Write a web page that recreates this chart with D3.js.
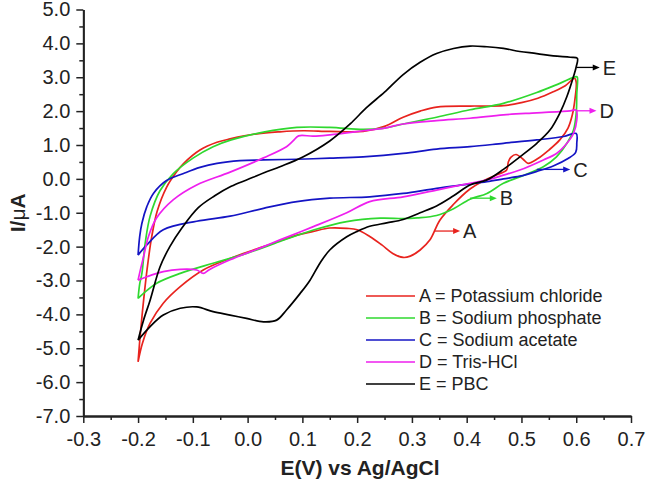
<!DOCTYPE html>
<html>
<head>
<meta charset="utf-8">
<script src="https://cdn.jsdelivr.net/npm/d3@7"></script>
<style>
	body { margin: 0; background: #fff; }
	.canvas { width: 646px; height: 483px; }
	text { font-family: Arial, "Liberation Sans", sans-serif; fill: #222; }
</style>
</head>
<body>
<div class="canvas"></div>
<script>
// series, in the order of the legend
const seriesKeys = ['A', 'B', 'C', 'D', 'E'];
const seriesNames = ['Potassium chloride', 'Sodium phosphate', 'Sodium acetate', 'Tris-HCl', 'PBC'];
const seriesColors = ['#e8231e', '#2fd82f', '#1414c4', '#ee1fee', '#000000'];

// each loop: [E (V), I (uA)] in scan order, forward then reverse
const loopA = [[-0.2,-5.4],[-0.196,-4.6],[-0.19,-3.6],[-0.183,-2.6],[-0.175,-1.7],[-0.165,-0.95],[-0.148,-0.25],[-0.13,0.2],[-0.117,0.45],[-0.087,0.85],[-0.056,1.08],[-0.032,1.18],[0.017,1.33],[0.059,1.39],[0.102,1.42],[0.15,1.4],[0.211,1.4],[0.25,1.55],[0.284,1.82],[0.315,2.0],[0.345,2.12],[0.406,2.15],[0.467,2.16],[0.5,2.25],[0.53,2.38],[0.558,2.57],[0.58,2.75],[0.597,2.97],
	[0.6,2.85],[0.598,2.4],[0.593,1.9],[0.585,1.5],[0.57,1.15],[0.55,0.85],[0.53,0.6],[0.512,0.46],[0.503,0.58],[0.49,0.72],[0.481,0.64],[0.476,0.5],[0.473,0.26],[0.455,0.12],[0.43,-0.06],[0.406,-0.3],[0.376,-0.75],[0.351,-1.22],[0.333,-1.8],[0.315,-2.1],[0.297,-2.28],[0.284,-2.32],[0.265,-2.2],[0.245,-1.95],[0.223,-1.7],[0.2,-1.5],[0.181,-1.46],[0.15,-1.45],[0.12,-1.55],[0.09,-1.66],[0.029,-2.0],[-0.032,-2.35],[-0.081,-2.69],[-0.123,-3.18],[-0.154,-3.67],[-0.178,-4.26],[-0.192,-4.85],[-0.2,-5.4]];
const loopB = [[-0.2,-3.53],[-0.197,-3.1],[-0.193,-2.79],[-0.187,-1.9],[-0.178,-1.1],[-0.16,-0.35],[-0.136,0.15],[-0.099,0.62],[-0.063,0.95],[-0.03,1.15],[0.029,1.38],[0.09,1.52],[0.15,1.52],[0.211,1.46],[0.25,1.5],[0.284,1.62],[0.345,1.82],[0.406,2.04],[0.467,2.23],[0.528,2.55],[0.57,2.82],[0.6,3.02],
	[0.602,3.0],[0.601,2.5],[0.6,1.94],[0.595,1.44],[0.583,1.05],[0.564,0.65],[0.54,0.36],[0.497,0.06],[0.467,-0.13],[0.437,-0.43],[0.406,-0.6],[0.376,-0.88],[0.345,-1.08],[0.31,-1.15],[0.284,-1.17],[0.242,-1.16],[0.181,-1.26],[0.12,-1.51],[0.059,-1.85],[-0.002,-2.2],[-0.063,-2.49],[-0.123,-2.79],[-0.166,-3.08],[-0.19,-3.38],[-0.2,-3.53]];
const loopC = [[-0.2,-2.25],[-0.197,-1.7],[-0.193,-1.31],[-0.184,-0.82],[-0.172,-0.43],[-0.148,-0.05],[-0.117,0.16],[-0.087,0.34],[-0.056,0.46],[-0.014,0.54],[0.029,0.56],[0.09,0.58],[0.15,0.61],[0.211,0.65],[0.284,0.75],[0.345,0.88],[0.406,0.95],[0.467,1.05],[0.528,1.15],[0.577,1.25],[0.6,1.34],
	[0.601,1.05],[0.599,0.78],[0.585,0.6],[0.558,0.38],[0.528,0.22],[0.497,0.08],[0.467,0.0],[0.437,-0.08],[0.406,-0.15],[0.345,-0.28],[0.284,-0.43],[0.223,-0.53],[0.15,-0.57],[0.09,-0.67],[0.029,-0.87],[-0.032,-1.1],[-0.093,-1.25],[-0.154,-1.5],[-0.184,-1.95],[-0.2,-2.25]];
const loopD = [[-0.2,-2.99],[-0.196,-2.7],[-0.19,-2.3],[-0.181,-1.7],[-0.166,-1.15],[-0.136,-0.62],[-0.093,-0.18],[-0.032,0.2],[0.029,0.62],[0.071,0.95],[0.083,1.12],[0.093,1.27],[0.12,1.26],[0.15,1.3],[0.211,1.42],[0.25,1.5],[0.284,1.62],[0.345,1.72],[0.406,1.79],[0.467,1.89],[0.528,1.95],[0.589,2.01],[0.6,2.03],
	[0.601,1.74],[0.595,1.34],[0.583,1.05],[0.564,0.75],[0.54,0.56],[0.497,0.26],[0.467,0.11],[0.437,-0.03],[0.406,-0.13],[0.345,-0.33],[0.284,-0.53],[0.223,-0.67],[0.181,-1.0],[0.12,-1.41],[0.059,-1.8],[0.029,-2.0],[-0.032,-2.39],[-0.07,-2.68],[-0.081,-2.79],[-0.093,-2.69],[-0.123,-2.67],[-0.154,-2.74],[-0.184,-2.89],[-0.2,-2.99]];
const loopE = [[-0.2,-4.76],[-0.19,-4.17],[-0.178,-3.58],[-0.16,-2.6],[-0.142,-2.0],[-0.12,-1.45],[-0.09,-0.85],[-0.06,-0.5],[-0.03,-0.22],[0.0,-0.02],[0.03,0.18],[0.059,0.36],[0.1,0.64],[0.15,1.12],[0.187,1.62],[0.217,2.1],[0.25,2.56],[0.284,3.08],[0.315,3.44],[0.345,3.7],[0.376,3.85],[0.406,3.92],[0.437,3.9],[0.467,3.85],[0.497,3.76],[0.528,3.7],[0.558,3.63],[0.589,3.59],[0.602,3.56],
	[0.6,3.31],[0.595,3.02],[0.583,2.43],[0.57,1.94],[0.552,1.44],[0.528,1.05],[0.497,0.65],[0.467,0.28],[0.437,-0.03],[0.406,-0.18],[0.376,-0.5],[0.345,-0.8],[0.315,-1.0],[0.284,-1.2],[0.254,-1.3],[0.223,-1.4],[0.2,-1.55],[0.181,-1.71],[0.15,-2.1],[0.132,-2.49],[0.114,-2.99],[0.096,-3.38],[0.071,-3.87],[0.053,-4.17],[0.029,-4.22],[-0.002,-4.12],[-0.032,-4.02],[-0.063,-3.92],[-0.093,-3.78],[-0.123,-3.82],[-0.154,-4.02],[-0.178,-4.36],[-0.2,-4.76]];
const loops = [loopA, loopB, loopC, loopD, loopE];

// arrow call-outs: start E, end E, I
const calloutFrom = [0.342, 0.406, 0.528, 0.601, 0.601];
const calloutTo = [0.388, 0.455, 0.589, 0.637, 0.643];
const calloutI = [-1.54, -0.57, 0.28, 2.01, 3.29];

// axes
const xTicks = [-0.3, -0.2, -0.1, 0.0, 0.1, 0.2, 0.3, 0.4, 0.5, 0.6, 0.7];
const yTicks = [-7, -6, -5, -4, -3, -2, -1, 0, 1, 2, 3, 4, 5];

const W = 646, H = 483;
const m = { t: 9.5, r: 15, b: 67, l: 83.3 };

const svg = d3.select('.canvas').append('svg')
	.attr('width', W)
	.attr('height', H);

const x = d3.scaleLinear().domain([-0.3, 0.7]).range([m.l, 631]);
const y = d3.scaleLinear().domain([-7, 5]).range([H - m.b, m.t]);

//minor ticks at half steps
const xMinor = d3.range(0, xTicks.length - 1).map(i => (xTicks[i] + xTicks[i + 1]) / 2);
const yMinor = d3.range(0, yTicks.length - 1).map(i => (yTicks[i] + yTicks[i + 1]) / 2);

const fmt = d => (Math.round(d * 10) / 10).toFixed(1);

const gx = svg.append('g')
	.attr('transform', `translate(0,${y(-7)})`);
gx.append('g')
	.call(d3.axisBottom(x).tickValues(xMinor).tickSize(4).tickSizeOuter(0).tickFormat(''));
gx.append('g')
	.call(d3.axisBottom(x).tickValues(xTicks).tickSize(7).tickSizeOuter(0).tickFormat(fmt))
	.call(g => g.selectAll('text').attr('dy', '1.0em').style('font-size', '20px').style('fill', '#222'));

const gy = svg.append('g')
	.attr('transform', `translate(${x(-0.3)},0)`);
gy.append('g')
	.call(d3.axisLeft(y).tickValues(yMinor).tickSize(4).tickSizeOuter(0).tickFormat(''));
gy.append('g')
	.call(d3.axisLeft(y).tickValues(yTicks).tickSize(7).tickSizeOuter(0).tickFormat(fmt))
	.call(g => g.selectAll('text').attr('x', -13).style('font-size', '20px').style('fill', '#222'));

svg.selectAll('.domain').attr('stroke', '#222').attr('stroke-width', 1.8);
svg.selectAll('.tick line').attr('stroke', '#222').attr('stroke-width', 1.5);

//axis titles
svg.append('text')
	.attr('x', 360)
	.attr('y', 475)
	.attr('text-anchor', 'middle')
	.style('font-size', '21px')
	.style('font-weight', 'bold')
	.text('E(V) vs Ag/AgCl');

const yt = svg.append('text')
	.attr('transform', `translate(25,${(y(5) + y(-7)) / 2}) rotate(-90)`)
	.attr('text-anchor', 'middle')
	.style('font-size', '21px')
	.style('font-weight', 'bold');
yt.append('tspan').text('I/');
yt.append('tspan').style('font-weight', 'normal').text('μ');
yt.append('tspan').text('A');

//loops
const line = d3.line()
	.x(d => x(d[0]))
	.y(d => y(d[1]))
	.curve(d3.curveCatmullRom.alpha(0.5));

svg.append('g')
	.selectAll('path')
	.data(loops)
	.enter()
	.append('path')
	.attr('d', line)
	.attr('fill', 'none')
	.attr('stroke', (d, i) => seriesColors[i])
	.attr('stroke-width', 1.7)
	.attr('stroke-linejoin', 'round');

//call-out arrows
const callouts = svg.append('g')
	.selectAll('g')
	.data(seriesKeys)
	.enter()
	.append('g');

callouts.append('line')
	.attr('x1', (d, i) => x(calloutFrom[i]))
	.attr('x2', (d, i) => x(calloutTo[i]) - 5)
	.attr('y1', (d, i) => y(calloutI[i]))
	.attr('y2', (d, i) => y(calloutI[i]))
	.attr('stroke', (d, i) => seriesColors[i])
	.attr('stroke-width', 1.3);

callouts.append('path')
	.attr('d', (d, i) => {
		const tx = x(calloutTo[i]), ty = y(calloutI[i]);
		return `M${tx},${ty} L${tx - 7},${ty - 3} L${tx - 7},${ty + 3} Z`;
	})
	.attr('fill', (d, i) => seriesColors[i]);

callouts.append('text')
	.attr('x', (d, i) => x(calloutTo[i]) + 3)
	.attr('y', (d, i) => y(calloutI[i]))
	.attr('dy', '0.36em')
	.style('font-size', '20px')
	.text(d => d);

//legend
const legend = svg.append('g')
	.attr('transform', 'translate(366,296)')
	.selectAll('g')
	.data(seriesKeys)
	.enter()
	.append('g')
	.attr('transform', (d, i) => `translate(0,${i * 22})`);

legend.append('line')
	.attr('x1', 0)
	.attr('x2', 49)
	.attr('stroke', (d, i) => seriesColors[i])
	.attr('stroke-width', 1.3);

legend.append('text')
	.attr('x', 53)
	.attr('dy', '0.36em')
	.style('font-size', '18px')
	.text((d, i) => `${d} = ${seriesNames[i]}`);
</script>
</body>
</html>
